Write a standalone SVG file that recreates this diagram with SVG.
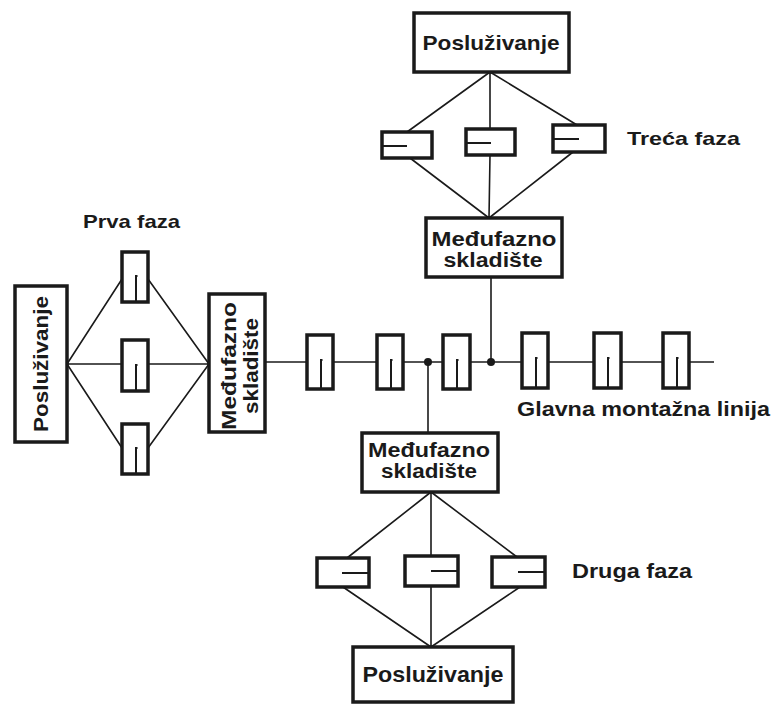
<svg xmlns="http://www.w3.org/2000/svg" width="776" height="704" viewBox="0 0 776 704">
<style>
.box{fill:#fff;stroke:#1a1a1a;stroke-width:3.5}
.ln{stroke:#1a1a1a;stroke-width:1.6;fill:none}
.in{stroke:#1a1a1a;stroke-width:2;fill:none}
.t{font-family:"Liberation Sans",Arial,sans-serif;font-weight:bold;fill:#1a1a1a}
.c{text-anchor:middle}
</style>
<rect width="776" height="704" fill="#fff"/>
<g id="connectors">
  <path class="ln" d="M67,364 L122,279 M148,279 L209,364 M67,364 H122 M148,364 H209 M67,364 L122,448 M148,448 L209,364"/>
  <path class="ln" d="M265,362 H714"/>
  <path class="ln" d="M490,72 L407,132 M490,72 V129 M490,72 L577,125 M410,158 L489,218 M490,155 L489,218 M573,152 L489,218"/>
  <path class="ln" d="M491,277 V362"/>
  <circle cx="491" cy="362" r="4" fill="#1a1a1a"/>
  <path class="ln" d="M428,362 V433"/>
  <circle cx="428" cy="362" r="4" fill="#1a1a1a"/>
  <path class="ln" d="M431,492 L347,558 M431,492 V556 M431,492 L517,557 M343,587 L431,647 M431,586 V647 M520,587 L431,647"/>
</g>
<g id="posluzivanje-left">
  <rect class="box" x="15" y="286" width="52" height="156"/>
  <text class="t c" font-size="21" transform="translate(41,364) rotate(-90)" x="0" y="7" textLength="136" lengthAdjust="spacingAndGlyphs">Posluživanje</text>
</g>
<g id="prva-faza-label"><text class="t" x="83" y="228" font-size="19" textLength="97" lengthAdjust="spacingAndGlyphs">Prva faza</text></g>
<g id="s1a"><rect class="box" x="122" y="252" width="26" height="50"/><path class="in" d="M136,302 V276 H137.5"/></g>
<g id="s1b"><rect class="box" x="122" y="340" width="26" height="51"/><path class="in" d="M136,391 V365 H137.5"/></g>
<g id="s1c"><rect class="box" x="122" y="424" width="26" height="50"/><path class="in" d="M136,474 V448 H137.5"/></g>
<g id="medjufazno-left">
  <rect class="box" x="209" y="294" width="56" height="138"/>
  <g transform="translate(237,366) rotate(-90)">
    <text class="t c" font-size="20" x="0" y="-1" textLength="128" lengthAdjust="spacingAndGlyphs">Međufazno</text>
    <text class="t c" font-size="20" x="0" y="21" textLength="96" lengthAdjust="spacingAndGlyphs">skladište</text>
  </g>
</g>
<g id="m1"><rect class="box" x="307" y="335" width="26" height="54"/><path class="in" d="M321,389 V360 H322.5"/></g>
<g id="m2"><rect class="box" x="377" y="335" width="26" height="54"/><path class="in" d="M391,389 V360 H392.5"/></g>
<g id="m3"><rect class="box" x="443" y="335" width="27" height="54"/><path class="in" d="M457,389 V360 H458.5"/></g>
<g id="m4"><rect class="box" x="522" y="333" width="26" height="55"/><path class="in" d="M536,388 V358 H537.5"/></g>
<g id="m5"><rect class="box" x="594" y="333" width="27" height="55"/><path class="in" d="M608,388 V358 H609.5"/></g>
<g id="m6"><rect class="box" x="663" y="333" width="26" height="55"/><path class="in" d="M677,388 V358 H678.5"/></g>
<g id="glavna-label"><text class="t" x="517" y="416" font-size="21" textLength="253" lengthAdjust="spacingAndGlyphs">Glavna montažna linija</text></g>
<g id="posluzivanje-top">
  <rect class="box" x="414" y="13" width="155" height="59"/>
  <text class="t c" x="491" y="50" font-size="21" textLength="137" lengthAdjust="spacingAndGlyphs">Posluživanje</text>
</g>
<g id="t1"><rect class="box" x="382" y="132" width="50" height="26"/><path class="in" d="M382,146 H407"/></g>
<g id="t2"><rect class="box" x="466" y="129" width="49" height="26"/><path class="in" d="M466,143 H491"/></g>
<g id="t3"><rect class="box" x="553" y="125" width="52" height="27"/><path class="in" d="M553,139 H579"/></g>
<g id="treca-label"><text class="t" x="627" y="145" font-size="19" textLength="113" lengthAdjust="spacingAndGlyphs">Treća faza</text></g>
<g id="medjufazno-top">
  <rect class="box" x="426" y="218" width="136" height="59"/>
  <text class="t c" x="494" y="246" font-size="20" textLength="125" lengthAdjust="spacingAndGlyphs">Međufazno</text>
  <text class="t c" x="493" y="267" font-size="20" textLength="99" lengthAdjust="spacingAndGlyphs">skladište</text>
</g>
<g id="medjufazno-bottom">
  <rect class="box" x="362" y="433" width="136" height="59"/>
  <text class="t c" x="429" y="457" font-size="20" textLength="122" lengthAdjust="spacingAndGlyphs">Međufazno</text>
  <text class="t c" x="429" y="478" font-size="20" textLength="96" lengthAdjust="spacingAndGlyphs">skladište</text>
</g>
<g id="d1"><rect class="box" x="317" y="558" width="52" height="29"/><path class="in" d="M342,573 H369"/></g>
<g id="d2"><rect class="box" x="405" y="556" width="53" height="30"/><path class="in" d="M431,571 H458"/></g>
<g id="d3"><rect class="box" x="492" y="557" width="53" height="30"/><path class="in" d="M518,572 H545"/></g>
<g id="druga-label"><text class="t" x="572" y="578" font-size="21" textLength="120" lengthAdjust="spacingAndGlyphs">Druga faza</text></g>
<g id="posluzivanje-bottom">
  <rect class="box" x="353" y="647" width="160" height="55"/>
  <text class="t c" x="433" y="682" font-size="22" textLength="141" lengthAdjust="spacingAndGlyphs">Posluživanje</text>
</g>
</svg>
